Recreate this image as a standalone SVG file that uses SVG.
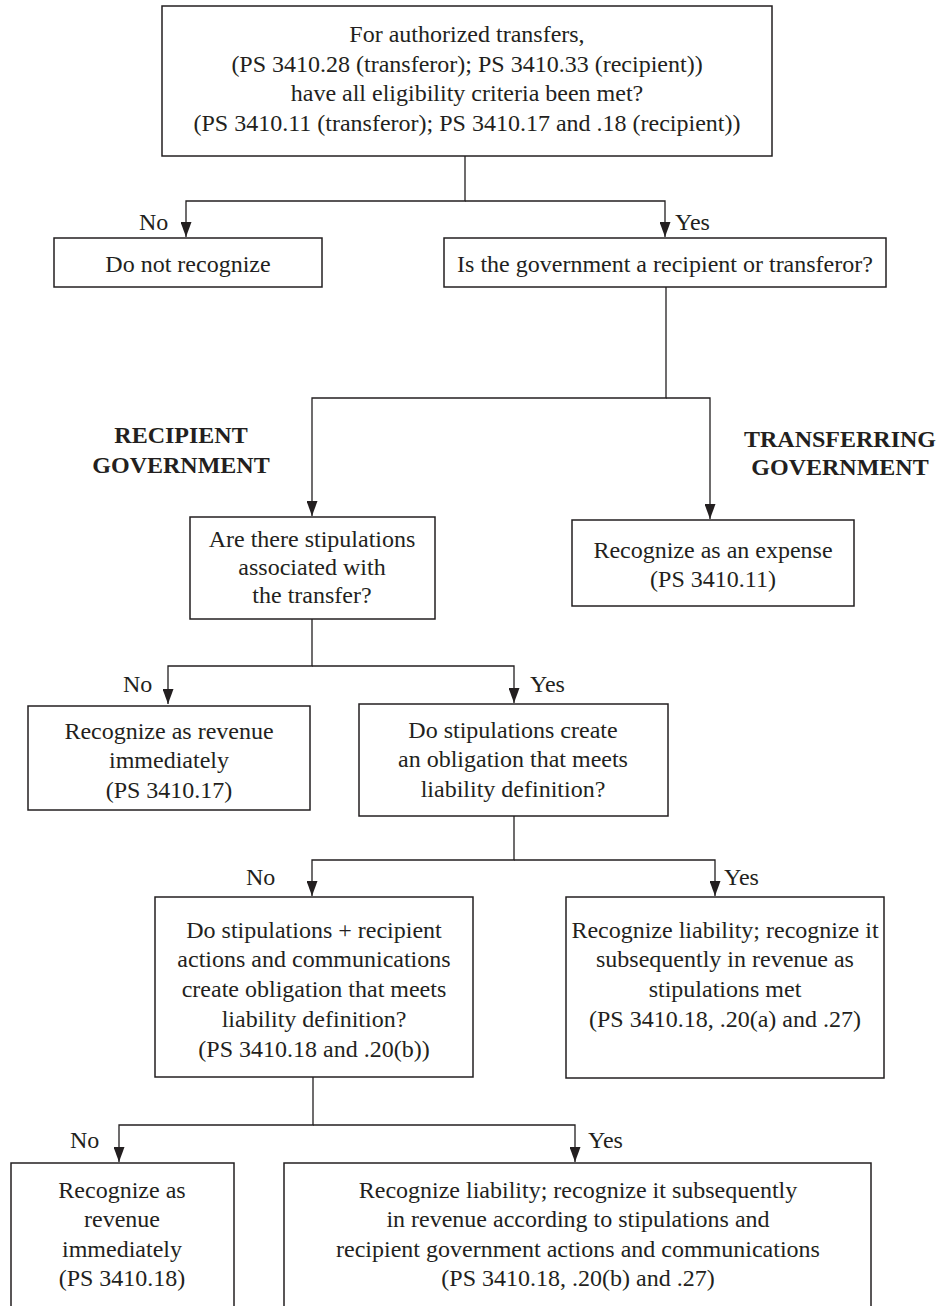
<svg xmlns="http://www.w3.org/2000/svg" width="945" height="1306" viewBox="0 0 945 1306">
<style>
.box{fill:#fff;stroke:#231f20;stroke-width:1.5}
.t{font-family:"Liberation Serif","Times New Roman",serif;font-size:24px;fill:#231f20;text-anchor:middle}
.l{font-family:"Liberation Serif","Times New Roman",serif;font-size:24px;fill:#231f20}
.b{font-family:"Liberation Serif","Times New Roman",serif;font-size:24px;font-weight:bold;fill:#231f20;text-anchor:middle}
.c{fill:none;stroke:#231f20;stroke-width:1.3}
</style>
<defs>
<marker id="ah" markerUnits="userSpaceOnUse" markerWidth="15" markerHeight="11" refX="15" refY="5.5" orient="auto">
<path d="M0,0 L15,5.5 L0,11 z" fill="#231f20"/>
</marker>
</defs>
<rect width="945" height="1306" fill="#fff"/>
<g id="connectors">
<path class="c" d="M465,156 V201 H186 V237" marker-end="url(#ah)"/>
<path class="c" d="M465,201 H665 V237" marker-end="url(#ah)"/>
<path class="c" d="M666,287 V398 H312 V516" marker-end="url(#ah)"/>
<path class="c" d="M666,398 H710 V519" marker-end="url(#ah)"/>
<path class="c" d="M312,619 V666 H168 V704" marker-end="url(#ah)"/>
<path class="c" d="M312,666 H514 V703" marker-end="url(#ah)"/>
<path class="c" d="M514,816 V860 H312 V896" marker-end="url(#ah)"/>
<path class="c" d="M514,860 H715 V896" marker-end="url(#ah)"/>
<path class="c" d="M313,1077 V1125 H119 V1162" marker-end="url(#ah)"/>
<path class="c" d="M313,1125 H575 V1162" marker-end="url(#ah)"/>
</g>
<g id="labels">
<text class="l" x="139" y="230">No</text>
<text class="l" x="675" y="230">Yes</text>
<text class="l" x="123" y="692">No</text>
<text class="l" x="530" y="692">Yes</text>
<text class="l" x="246" y="885">No</text>
<text class="l" x="724" y="885">Yes</text>
<text class="l" x="70" y="1148">No</text>
<text class="l" x="588" y="1148">Yes</text>
<text class="b" x="181" y="443">RECIPIENT</text>
<text class="b" x="181" y="473">GOVERNMENT</text>
<text class="b" x="840" y="447">TRANSFERRING</text>
<text class="b" x="840" y="475">GOVERNMENT</text>
</g>
<g id="n-eligibility">
<rect class="box" x="162" y="6" width="610" height="150"/>
<text class="t" x="467" y="42">For authorized transfers,</text>
<text class="t" x="467" y="71.5">(PS 3410.28 (transferor); PS 3410.33 (recipient))</text>
<text class="t" x="467" y="101">have all eligibility criteria been met?</text>
<text class="t" x="467" y="130.5">(PS 3410.11 (transferor); PS 3410.17 and .18 (recipient))</text>
</g>
<g id="n-donot">
<rect class="box" x="54" y="238" width="268" height="49"/>
<text class="t" x="188" y="272">Do not recognize</text>
</g>
<g id="n-role">
<rect class="box" x="444" y="238" width="442" height="49"/>
<text class="t" x="665" y="272">Is the government a recipient or transferor?</text>
</g>
<g id="n-stip">
<rect class="box" x="190" y="517" width="245" height="102"/>
<text class="t" x="312" y="547">Are there stipulations</text>
<text class="t" x="312" y="575">associated with</text>
<text class="t" x="312" y="603">the transfer?</text>
</g>
<g id="n-expense">
<rect class="box" x="572" y="520" width="282" height="86"/>
<text class="t" x="713" y="558">Recognize as an expense</text>
<text class="t" x="713" y="587">(PS 3410.11)</text>
</g>
<g id="n-rev1">
<rect class="box" x="28" y="706" width="282" height="104"/>
<text class="t" x="169" y="739">Recognize as revenue</text>
<text class="t" x="169" y="768">immediately</text>
<text class="t" x="169" y="798">(PS 3410.17)</text>
</g>
<g id="n-create">
<rect class="box" x="359" y="704" width="309" height="112"/>
<text class="t" x="513" y="738">Do stipulations create</text>
<text class="t" x="513" y="767">an obligation that meets</text>
<text class="t" x="513" y="797">liability definition?</text>
</g>
<g id="n-plus">
<rect class="box" x="155" y="897" width="318" height="180"/>
<text class="t" x="314" y="938">Do stipulations + recipient</text>
<text class="t" x="314" y="967">actions and communications</text>
<text class="t" x="314" y="997">create obligation that meets</text>
<text class="t" x="314" y="1027">liability definition?</text>
<text class="t" x="314" y="1057">(PS 3410.18 and .20(b))</text>
</g>
<g id="n-liab1">
<rect class="box" x="566" y="897" width="318" height="181"/>
<text class="t" x="725" y="938">Recognize liability; recognize it</text>
<text class="t" x="725" y="967">subsequently in revenue as</text>
<text class="t" x="725" y="997">stipulations met</text>
<text class="t" x="725" y="1027">(PS 3410.18, .20(a) and .27)</text>
</g>
<g id="n-rev2">
<rect class="box" x="11" y="1163" width="223" height="160"/>
<text class="t" x="122" y="1198">Recognize as</text>
<text class="t" x="122" y="1227">revenue</text>
<text class="t" x="122" y="1257">immediately</text>
<text class="t" x="122" y="1286">(PS 3410.18)</text>
</g>
<g id="n-liab2">
<rect class="box" x="284" y="1163" width="587" height="160"/>
<text class="t" x="578" y="1198">Recognize liability; recognize it subsequently</text>
<text class="t" x="578" y="1227">in revenue according to stipulations and</text>
<text class="t" x="578" y="1257">recipient government actions and communications</text>
<text class="t" x="578" y="1286">(PS 3410.18, .20(b) and .27)</text>
</g>
</svg>
